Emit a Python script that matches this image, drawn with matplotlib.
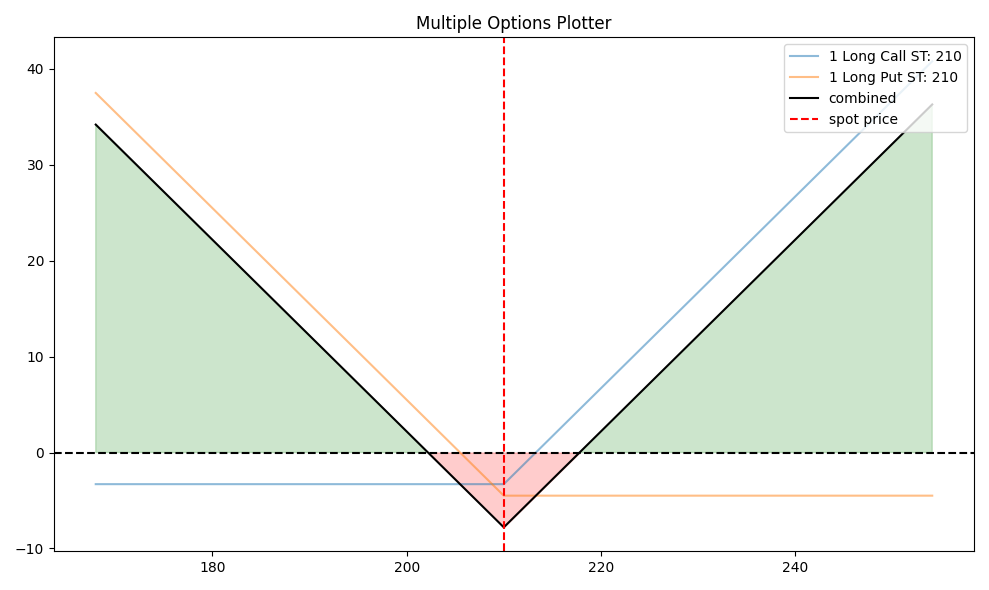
import matplotlib
matplotlib.use("Agg")
import matplotlib.pyplot as plt
import numpy as np

spot_x = [168.0, 210.0, 254.1]
call_y = [-3.3, -3.3, 40.8]
put_y = [37.5, -4.5, -4.5]
combined_y = [34.2, -7.8, 36.3]
spot_price = 210
labels = ["1 Long Call ST: 210", "1 Long Put ST: 210", "combined", "spot price"]

fig, ax = plt.subplots(figsize=(9.89, 5.9), dpi=100)
x = np.array(spot_x); y = np.array(combined_y)
ax.fill_between(x, y, 0, where=y >= 0, interpolate=True, color="green", alpha=0.2)
ax.fill_between(x, y, 0, where=y <= 0, interpolate=True, color="red", alpha=0.2)
ax.plot(spot_x, call_y, color="tab:blue", alpha=0.5, label=labels[0])
ax.plot(spot_x, put_y, color="tab:orange", alpha=0.5, label=labels[1])
ax.plot(spot_x, combined_y, color="black", label=labels[2])
ax.axvline(spot_price, color="red", linestyle="--", label=labels[3])
ax.axhline(0, color="black", linestyle="--")
ax.set_ylim(-10.3, 43.3)
ax.set_xlim(163.7, 258.4)
ax.set_title("Multiple Options Plotter")
ax.legend(loc="upper right")
fig.tight_layout()
fig.savefig("out.png")
